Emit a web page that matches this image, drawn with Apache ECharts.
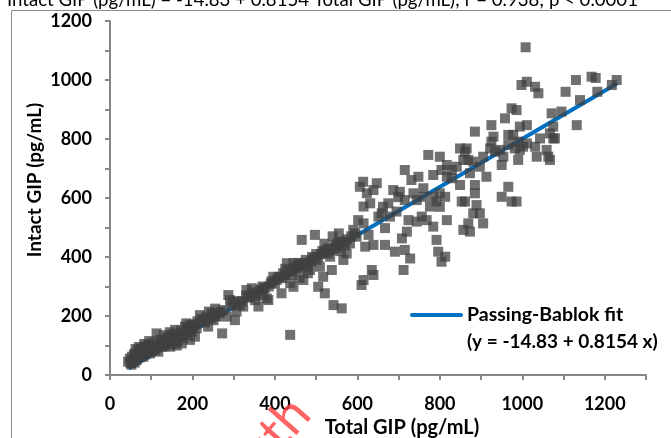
<!DOCTYPE html>
<html>
<head>
<meta charset="utf-8">
<script src="https://cdn.jsdelivr.net/npm/echarts@6/dist/echarts.min.js"></script>
<style>
  html, body { margin: 0; padding: 0; background: #fff; }
  #gip-chart { width: 671px; height: 438px; }
</style>
</head>
<body>
<div id="gip-chart"></div>
<script>
// tick labels
var xTicks = [0, 200, 400, 600, 800, 1000, 1200];
var yTicks = [0, 200, 400, 600, 800, 1000, 1200];

// Passing-Bablok fit, end points
var fitX = [45, 1230];
var fitY = [22, 988];

// total GIP / intact GIP pairs (pg/mL)
var lowPts = [
  [44,45],[53,62],[61,73],[69,85],[77,90],[85,96],[93,102],[101,96],[65,51],[81,62],
  [97,73],[109,85],[117,79],[113,141],[121,119],[129,107],[137,124],[146,96],[154,119],[158,153],
  [166,130],[174,107],[182,164],[186,136],[194,119],[198,147],[206,130],[210,158],
  [48,55],[57,48],[72,60],[88,78],[62,88],[75,75],[92,88],[105,110],[83,105],[70,95],
  [100,80],[125,95],[135,110],[142,130],[150,105],[160,120],[170,140],[178,125],[190,150],[202,165],
  [115,100],[95,115],[58,70],[50,40],[130,135],[145,145],[162,100],[185,175],[195,170],
  [52,35],[60,42],[66,62],[74,68],[80,80],[86,70],[90,95],[98,90],[104,88],[108,100],
  [112,92],[120,105],[126,112],[132,98],[140,118],[148,120],[152,138],[156,112],[165,118],[172,150],
  [180,140],[188,160],[196,155],[204,172],[212,182],[222,190],[230,178],[244,192],[256,200],[268,215]
];
var midLowPts = [
  [218,203],[226,186],[234,198],[238,164],[247,209],[251,186],[259,198],[272,141],[283,198],[287,271],
  [291,254],[299,248],[303,186],[307,215],[315,237],[323,232],[331,288],[340,265],[344,294],[352,254],
  [360,232],[364,288],[372,271],[380,260],[384,254],[396,333],[404,322],[412,333],[416,277],[429,379],
  [437,311],[445,379],[445,299],[437,136],[453,367],[461,362],[465,458],[469,322],[477,367],[485,356],
  [497,475],[501,390],[505,299],[509,367],[517,333],[521,277],[526,424],[534,401],[538,356],[542,237],
  [550,435],[558,452],[562,226],[566,390],[574,412],[582,446],[590,492],[598,469],[602,525],
  [265,210],[275,220],[240,215],[255,225],[295,235],[310,250],[330,270],[350,280],[370,300],[390,310],
  [420,345],[440,350],[455,380],[475,390],[490,400],[500,410],[515,420],[530,430],[545,440],[560,420],
  [575,460],[585,470],[595,480],[480,345],[460,330],[425,360],[520,445],[540,470],[555,480],
  [320,250],[335,262],[345,275],[355,268],[368,290],[375,295],[385,300],[392,318],[400,310],[408,330],
  [418,328],[425,340],[432,352],[442,340],[450,362],[458,372],[466,376],[472,380],[480,372],[488,385],
  [495,396],[505,400],[512,410],[520,418],[528,412],[536,422],[546,428],[552,446],[565,450],[570,440]
];
var midPts = [
  [614,655],[623,616],[639,627],[615,571],[631,582],[651,537],[615,514],[627,475],[619,435],[639,441],
  [712,356],[635,356],[639,339],[615,322],[610,305],[606,638],[647,650],
  [667,441],[691,418],[715,424],[728,395],[708,463],[667,498],[679,537],[659,548],[695,554],[724,525],
  [720,486],[744,520],[756,537],[768,525],[776,571],[792,588],[784,503],[792,458],[796,418],[813,401],
  [817,525],[813,604],[800,616],[687,627],[703,621],[715,695],[736,616],[748,672],[731,661],[760,633],
  [772,746],[784,604],[784,678],[800,740],[804,695],[817,712],[817,672],[829,695],[829,667],[841,706],
  [849,644],[853,588],[861,588],[857,729],[865,768],[869,729],[873,684],[881,723],[885,825],[885,644],
  [885,616],[889,576],[881,548],[897,548],[905,514],[873,486],[857,492],[861,757],[897,706],[905,740],
  [913,672],[662,570],[675,582],[699,603],[715,593],[744,593],[760,604],[800,570],[849,768],[869,514],
  [804,384]
];
var highPts = [
  [925,791],[930,808],[922,768],[934,757],[946,763],[950,712],[954,740],[966,638],[950,604],[974,588],
  [986,588],[958,870],[974,904],[986,898],[966,814],[978,814],[994,842],[990,791],[1011,847],[966,780],
  [982,768],[994,763],[1002,774],[990,729],[1011,785],[1031,774],[1043,802],[1035,740],[1059,763],[1067,729],
  [1063,740],[998,983],[1011,994],[1031,977],[1039,955],[1071,887],[1075,842],[1075,802],[925,847],[1008,1111],
  [1105,960],[1130,1000],[1168,1011],[1178,1007],[1140,932],[1182,960],[1217,983],[1229,1000],[1132,847],[1095,893],
  [1079,802],[1067,819]
];

var fitLegend = 'Passing-Bablok fit';
var fitEquation = '(y = -14.83 + 0.8154 x)';
var topNote = 'Intact GIP (pg/mL) = -14.83 + 0.8154 Total GIP (pg/mL); r = 0.938; p < 0.0001';

var FONT = 'Lato';
var AXIS_GRAY = '#878787';

var myChart = echarts.init(document.getElementById('gip-chart'));

var points = lowPts.concat(midLowPts, midPts, highPts);
var fitLine = fitX.map(function (x, i) { return [x, fitY[i]]; });

function tickLabel(list) {
  return function (v) { return list.indexOf(v) >= 0 ? String(v) : ''; };
}

var option = {
  animation: false,
  backgroundColor: '#fff',
  grid: { left: 110, right: 25, top: 21, bottom: 63 },
  xAxis: {
    type: 'value', min: 0, max: 1300, interval: 100,
    splitLine: { show: false },
    axisLine: { lineStyle: { color: AXIS_GRAY, width: 2 } },
    axisTick: { length: 5, lineStyle: { color: AXIS_GRAY, width: 2 } },
    axisLabel: {
      margin: 20, formatter: tickLabel(xTicks),
      color: '#000', fontFamily: FONT, fontWeight: 'bold', fontSize: 18
    }
  },
  yAxis: {
    type: 'value', min: 0, max: 1200, interval: 100,
    splitLine: { show: false },
    axisLine: { show: true, lineStyle: { color: AXIS_GRAY, width: 2 } },
    axisTick: { show: true, length: 5, lineStyle: { color: AXIS_GRAY, width: 2 } },
    axisLabel: {
      margin: 18, formatter: tickLabel(yTicks),
      color: '#000', fontFamily: FONT, fontWeight: 'bold', fontSize: 18
    }
  },
  graphic: [
    { type: 'rect', silent: true, z: -1,
      shape: { x: 11.5, y: 10.5, width: 700, height: 500 },
      style: { fill: 'none', stroke: '#8c8c8c', lineWidth: 1 } },
    { type: 'text', x: 7, y: 9, silent: true,
      style: { text: topNote, fill: '#000', font: '18.6px ' + FONT, verticalAlign: 'bottom' } },
    { type: 'text', x: 402, y: 428, silent: true,
      style: { text: 'Total GIP (pg/mL)', fill: '#000', font: 'bold 20px ' + FONT,
               align: 'center', verticalAlign: 'middle' } },
    { type: 'text', x: 35, y: 180, rotation: Math.PI / 2, silent: true,
      style: { text: 'Intact GIP (pg/mL)', fill: '#000', font: 'bold 19px ' + FONT,
               align: 'center', verticalAlign: 'middle' } },
    { type: 'line', silent: true,
      shape: { x1: 412, y1: 315, x2: 461, y2: 315 },
      style: { stroke: '#0070C0', lineWidth: 4, lineCap: 'round' } },
    { type: 'text', x: 467, y: 315, silent: true,
      style: { text: fitLegend, fill: '#000', font: 'bold 19.5px ' + FONT, verticalAlign: 'middle' } },
    { type: 'text', x: 467, y: 342, silent: true,
      style: { text: fitEquation, fill: '#000', font: 'bold 19px ' + FONT, verticalAlign: 'middle' } },
    { type: 'text', x: 320, y: 422, rotation: 0.85, silent: true, z: 100,
      style: { text: 'Auth', fill: 'rgba(255,60,60,0.8)', font: '52px ' + FONT,
               align: 'right', verticalAlign: 'bottom' } }
  ],
  series: [
    {
      name: fitLegend, type: 'line', data: fitLine,
      symbol: 'none', z: 2,
      lineStyle: { color: '#0070C0', width: 4 }
    },
    {
      type: 'scatter', data: points, z: 3,
      symbol: 'rect', symbolSize: 10,
      itemStyle: { color: '#404040', opacity: 0.75 }
    }
  ]
};

myChart.setOption(option);
</script>
</body>
</html>
